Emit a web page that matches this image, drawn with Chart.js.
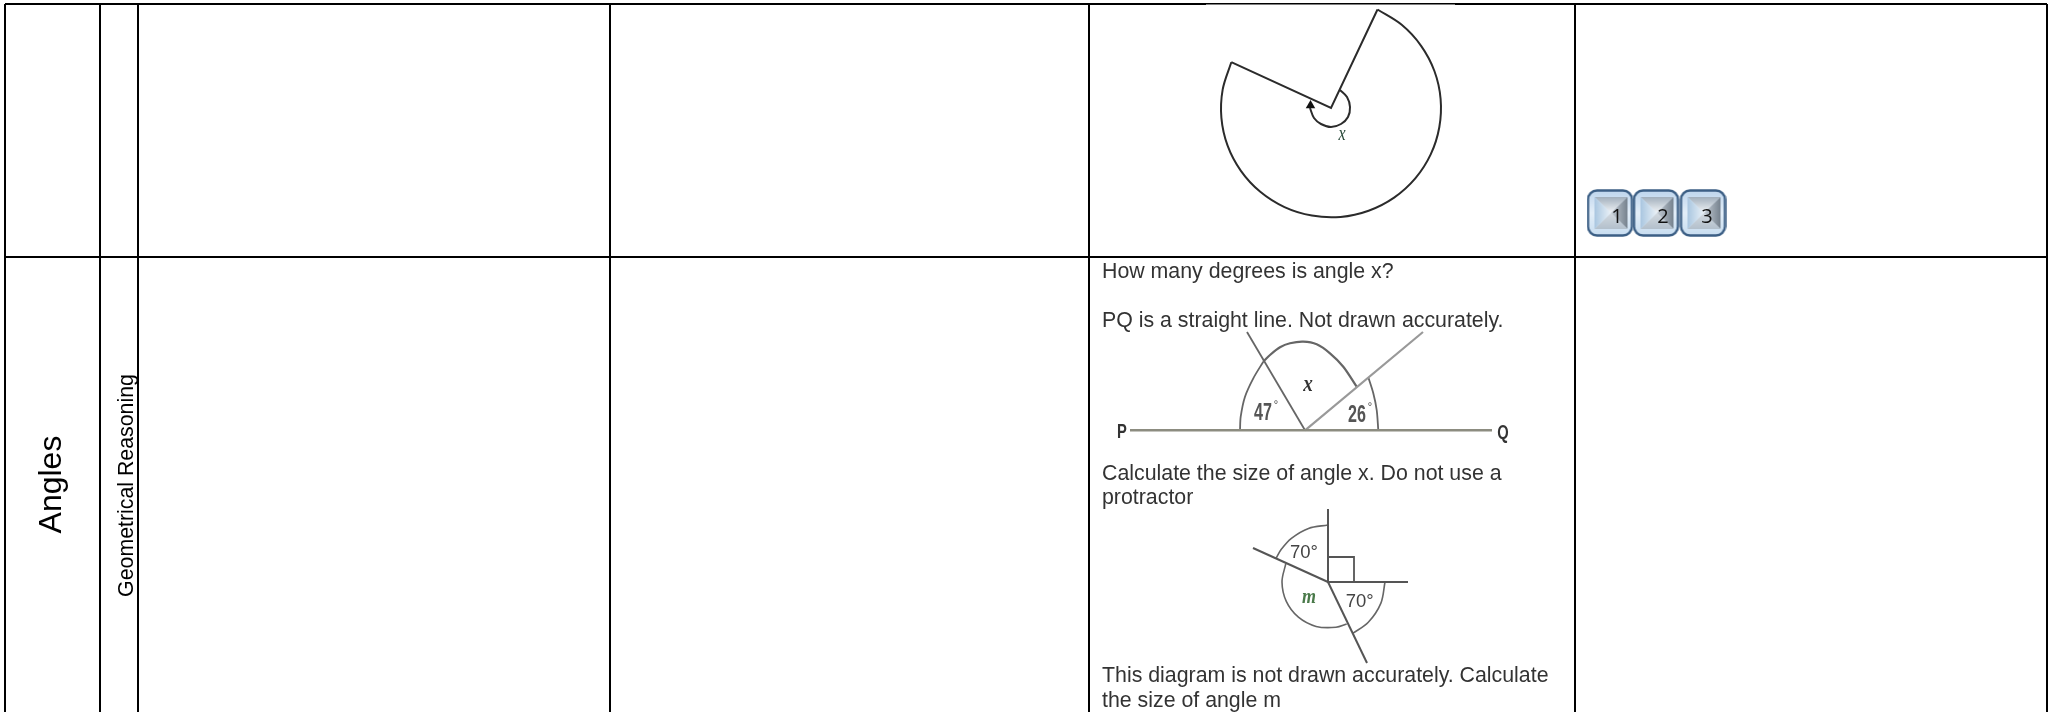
<!DOCTYPE html>
<html>
<head>
<meta charset="utf-8">
<style>
  html, body { margin: 0; padding: 0; background: #fff; }
  canvas { display: block; }
</style>
<script src="https://cdn.jsdelivr.net/npm/chart.js@4"></script>
</head>
<body>
<canvas id="sheet" width="2051" height="712"></canvas>
<script>
// table rules
const columnEdges = [5, 100, 138, 610, 1089, 1575, 2047];
const rowEdges = [4, 257];

// reflex angle diagram
const reflexRays = [{x: 1377.5, y: 9.5}, {x: 1331, y: 108}, {x: 1231.3, y: 62.2}];
const reflexArc = [
  {x: 1377.5, y: 9.5}, {x: 1401.7, y: 24.8}, {x: 1421.1, y: 45.8}, {x: 1434.4, y: 71}, {x: 1440.6, y: 98.8},
  {x: 1439.3, y: 127.2}, {x: 1430.7, y: 154.4}, {x: 1415.3, y: 178.4}, {x: 1394.1, y: 197.6}, {x: 1368.6, y: 210.7},
  {x: 1340.6, y: 216.9}, {x: 1311.9, y: 215.6}, {x: 1284.5, y: 207.1}, {x: 1260.3, y: 191.8}, {x: 1240.9, y: 170.8},
  {x: 1227.6, y: 145.6}, {x: 1221.4, y: 117.8}, {x: 1222.7, y: 89.4}, {x: 1231.3, y: 62.2},
];
const reflexMarker = [
  {x: 1340, y: 90}, {x: 1347, y: 97}, {x: 1350, y: 107}, {x: 1348, y: 117}, {x: 1341, y: 124},
  {x: 1331, y: 127}, {x: 1321, y: 124}, {x: 1314, y: 118}, {x: 1310, y: 108},
];
const reflexArrow = [{x: 1310.5, y: 105.5}];

// straight line diagram
const lineBase = [{x: 1130, y: 430.3}, {x: 1492, y: 430.3}];
const lineRayLeft = [{x: 1305, y: 430.3}, {x: 1247, y: 332}];
const lineRayRight = [{x: 1305, y: 430.3}, {x: 1423, y: 332}];
const lineArcLeft = [{x: 1240, y: 430.3}, {x: 1240.7, y: 416.7}, {x: 1245, y: 396.7}, {x: 1253.3, y: 378.3}, {x: 1263.3, y: 361.7}];
const lineArcMiddle = [
  {x: 1263.3, y: 361.7}, {x: 1270, y: 355}, {x: 1280, y: 347.3}, {x: 1290, y: 343.3}, {x: 1303.3, y: 341.7},
  {x: 1316.7, y: 344.3}, {x: 1330, y: 353.3}, {x: 1343.3, y: 366.7}, {x: 1356.7, y: 386.7},
];
const lineArcRight = [{x: 1368.3, y: 377.3}, {x: 1373.3, y: 393.3}, {x: 1376.7, y: 410}, {x: 1378.3, y: 430.3}];

// point angles diagram
const pointUpRight = [{x: 1328, y: 509}, {x: 1328, y: 582}, {x: 1408, y: 582}];
const pointRayLeft = [{x: 1253, y: 548}, {x: 1328, y: 582}];
const pointRayDown = [{x: 1328, y: 582}, {x: 1367, y: 663}];
const pointSquare = [{x: 1328, y: 557}, {x: 1354, y: 557}, {x: 1354, y: 582}];
const pointArcUpper = [{x: 1328, y: 525}, {x: 1308.5, y: 528.4}, {x: 1291.4, y: 538.3}, {x: 1281.3, y: 549.3}, {x: 1276.3, y: 557.9}];
const pointArcLower = [
  {x: 1285.8, y: 563.7}, {x: 1282, y: 582}, {x: 1286.3, y: 601.4}, {x: 1298.4, y: 617.2},
  {x: 1316.1, y: 626.4}, {x: 1336, y: 627.3}, {x: 1346.7, y: 624},
];
const pointArcRight = [{x: 1353, y: 633.2}, {x: 1368.3, y: 622.3}, {x: 1380.8, y: 603.4}, {x: 1385, y: 582}];

// button row
const buttonCentres = [{x: 1610, y: 213}, {x: 1656, y: 213}, {x: 1703, y: 213}];
const buttonLabels = ['1', '2', '3'];
const buttonLabelSpots = [{x: 1617, y: 223}, {x: 1663, y: 223}, {x: 1707, y: 223}];

const questionLines = [
  'How many degrees is angle x?',
  'PQ is a straight line. Not drawn accurately.',
  'Calculate the size of angle x. Do not use a',
  'protractor',
  'This diagram is not drawn accurately. Calculate',
  'the size of angle m',
];
const questionBaselines = [278, 327, 480, 504, 682, 707];
const questionLeft = 1102;

const textBody = '#333';
const inkDark = '#2b2b2b';
const inkMid = '#666';
const inkPale = '#999';

function stroke(data, color, width, tension) {
  return {
    data: data,
    showLine: true,
    borderColor: color,
    borderWidth: width,
    tension: tension || 0,
    pointRadius: 0,
    fill: false,
  };
}

function makeButton() {
  const c = document.createElement('canvas');
  c.width = 47;
  c.height = 48;
  const g = c.getContext('2d');
  const band = g.createLinearGradient(0, 0, 0, 48);
  band.addColorStop(0, '#bcd4ec');
  band.addColorStop(0.5, '#e3eef8');
  band.addColorStop(1, '#c6dcf0');
  g.beginPath();
  g.roundRect(1.5, 1.5, 44, 45, 9);
  g.fillStyle = band;
  g.fill();
  g.lineWidth = 2.4;
  g.strokeStyle = '#3c5f85';
  g.stroke();

  const l = 8, r = 41, t = 8, b = 40, mx = 24.5, my = 24;
  const facet = (pts, from, to, x0, y0, x1, y1) => {
    const f = g.createLinearGradient(x0, y0, x1, y1);
    f.addColorStop(0, from);
    f.addColorStop(1, to);
    g.beginPath();
    pts.forEach((p, i) => (i ? g.lineTo(p[0], p[1]) : g.moveTo(p[0], p[1])));
    g.closePath();
    g.fillStyle = f;
    g.fill();
  };
  facet([[l, t], [r, t], [mx, my]], '#a2afbc', '#f2f5f8', 0, t, 0, my);
  facet([[l, t], [l, b], [mx, my]], '#a9c6e0', '#eaf1f7', l, 0, mx, 0);
  facet([[r, t], [r, b], [mx, my]], '#76828e', '#c4ccd4', r, 0, mx, 0);
  facet([[l, b], [r, b], [mx, my]], '#b3c0cc', '#d4dae0', 0, b, 0, my);
  return c;
}

const sheetText = {
  id: 'sheetText',
  afterDatasetsDraw(chart) {
    const ctx = chart.ctx;
    const xs = chart.scales.x;
    const ys = chart.scales.y;
    const put = (text, x, y, font, color, align, angle, squeeze) => {
      ctx.save();
      ctx.translate(xs.getPixelForValue(x), ys.getPixelForValue(y));
      if (angle) ctx.rotate(angle);
      if (squeeze) ctx.scale(squeeze, 1);
      ctx.font = font;
      ctx.fillStyle = color;
      ctx.textAlign = align || 'left';
      ctx.textBaseline = 'alphabetic';
      ctx.fillText(text, 0, 0);
      ctx.restore();
    };
    questionLines.forEach((t, i) => put(t, questionLeft, questionBaselines[i], '21.33px "Liberation Sans"', textBody));
    put('Angles', 61, 484.5, '32px "Liberation Sans"', '#000', 'center', -Math.PI / 2);
    put('Geometrical Reasoning', 133, 485.5, '21.33px "Liberation Sans"', '#000', 'center', -Math.PI / 2);
    put('x', 1342, 140, 'italic 20px "Liberation Serif"', '#2a4a3a', 'center', 0, 0.8);
    put('P', 1122, 438, 'bold 21px "Liberation Sans"', '#333', 'center', 0, 0.7);
    put('Q', 1503, 439, 'bold 21px "Liberation Sans"', '#333', 'center', 0, 0.7);
    put('47', 1263, 420, 'bold 23px "Liberation Sans"', '#555', 'center', 0, 0.7);
    put('°', 1276, 408, '11px "Liberation Sans"', '#444', 'center');
    put('26', 1357, 422, 'bold 23px "Liberation Sans"', '#555', 'center', 0, 0.7);
    put('°', 1370, 410, '11px "Liberation Sans"', '#444', 'center');
    put('x', 1308, 391, 'bold italic 24px "Liberation Serif"', '#333', 'center', 0, 0.8);
    put('70°', 1304, 558, '18.5px "Liberation Sans"', '#444', 'center');
    put('70°', 1359.7, 606.7, '18.5px "Liberation Sans"', '#444', 'center');
    put('m', 1309, 603, 'bold italic 20px "Liberation Serif"', '#4a7a4a', 'center', 0, 0.9);
    buttonLabels.forEach((t, i) => put(t, buttonLabelSpots[i].x, buttonLabelSpots[i].y, '20px "Open Sans"', '#111', 'center'));
  },
};

new Chart(document.getElementById('sheet'), {
  type: 'scatter',
  data: {
    datasets: [
      stroke(reflexRays, inkDark, 2),
      stroke(reflexArc, inkDark, 2, 0.338),
      stroke(reflexMarker, inkDark, 2, 0.34),
      {
        data: reflexArrow,
        pointStyle: 'triangle',
        pointRadius: 5.5,
        pointBackgroundColor: '#111',
        pointBorderWidth: 0,
        showLine: false,
      },
      stroke(lineBase, '#8c8c80', 2.4),
      stroke(lineRayLeft, inkMid, 1.8),
      stroke(lineRayRight, inkPale, 2.2),
      stroke(lineArcLeft, inkMid, 1.8, 0.3),
      stroke(lineArcMiddle, inkMid, 2.2, 0.3),
      stroke(lineArcRight, inkMid, 1.8, 0.3),
      stroke(pointUpRight, '#555', 2),
      stroke(pointRayLeft, '#555', 2),
      stroke(pointRayDown, '#555', 2),
      stroke(pointSquare, '#555', 1.8),
      stroke(pointArcUpper, '#666', 1.6, 0.34),
      stroke(pointArcLower, '#666', 1.6, 0.34),
      stroke(pointArcRight, '#666', 1.6, 0.34),
      {
        data: buttonCentres,
        pointStyle: makeButton(),
        showLine: false,
      },
      // image laid over the top rule thins it
      stroke([{x: 1206, y: 5}, {x: 1455, y: 5}], '#fff', 1),
    ],
  },
  options: {
    responsive: false,
    animation: false,
    layout: { autoPadding: false, padding: { left: 5, right: 4, top: 4, bottom: 0 } },
    plugins: { legend: { display: false }, tooltip: { enabled: false } },
    scales: {
      x: {
        type: 'linear',
        min: 5,
        max: 2047,
        afterBuildTicks: scale => { scale.ticks = columnEdges.map(value => ({ value })); },
        ticks: { display: false, autoSkip: false },
        border: { display: false },
        grid: { color: '#000', lineWidth: 2, drawTicks: false },
      },
      y: {
        type: 'linear',
        reverse: true,
        min: 4,
        max: 712,
        afterBuildTicks: scale => { scale.ticks = rowEdges.map(value => ({ value })); },
        ticks: { display: false, autoSkip: false },
        border: { display: false },
        grid: { color: '#000', lineWidth: 2, drawTicks: false },
      },
    },
  },
  plugins: [sheetText],
});
</script>
</body>
</html>
